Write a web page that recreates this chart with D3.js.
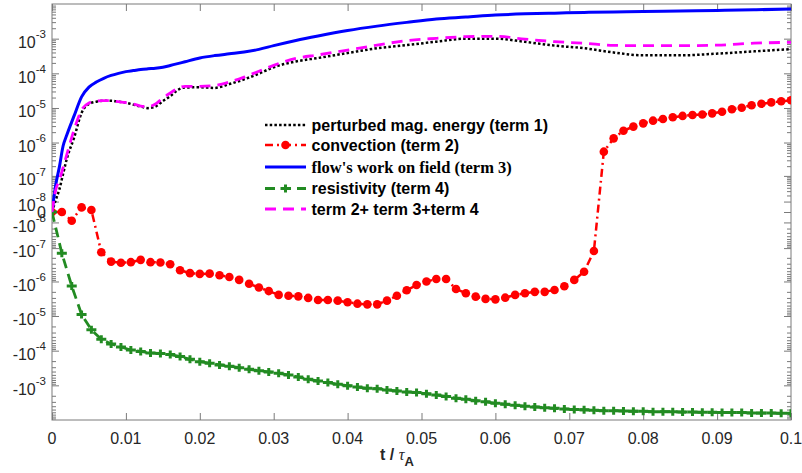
<!DOCTYPE html>
<html>
<head>
<meta charset="utf-8">
<script src="https://cdn.jsdelivr.net/npm/d3@7/dist/d3.min.js"></script>
<style>
  body { margin: 0; background: #fff; }
  svg { display: block; }
</style>
</head>
<body>
<svg id="chart" width="802" height="473"></svg>
<script>
// ---- sampled series (markers at every sample) ----
const tSamples = [
  0, 0.00133, 0.00267, 0.004, 0.00533, 0.00667, 0.008, 0.00933, 0.01067, 0.012,
  0.01333, 0.01467, 0.016, 0.01733, 0.01867, 0.02, 0.02133, 0.02267, 0.024, 0.02533,
  0.02667, 0.028, 0.02933, 0.03067, 0.032, 0.03333, 0.03467, 0.036, 0.03733, 0.03867,
  0.04, 0.04133, 0.04267, 0.044, 0.04533, 0.04667, 0.048, 0.04933, 0.05067, 0.052,
  0.05333, 0.05467, 0.056, 0.05733, 0.05867, 0.06, 0.06133, 0.06267, 0.064, 0.06533,
  0.06667, 0.068, 0.06933, 0.07067, 0.072, 0.07333, 0.07467, 0.076, 0.07733, 0.07867,
  0.08, 0.08133, 0.08267, 0.084, 0.08533, 0.08667, 0.088, 0.08933, 0.09067, 0.092,
  0.09333, 0.09467, 0.096, 0.09733, 0.09867, 0.1
];

// term 2: convection
const convection = [
  0, 0, -7.8e-9, 3.6e-9, 1.4e-9, -1.35e-7, -2.6e-7, -2.8e-7, -2.7e-7, -2.3e-7,
  -2.7e-7, -2.75e-7, -3.1e-7, -4.7e-7, -5.7e-7, -6.0e-7, -5.9e-7, -6.6e-7, -7.4e-7, -9.0e-7,
  -1.16e-6, -1.5e-6, -1.9e-6, -2.45e-6, -2.6e-6, -2.7e-6, -3.0e-6, -3.45e-6, -3.45e-6, -3.6e-6,
  -4.0e-6, -4.4e-6, -4.6e-6, -4.6e-6, -3.6e-6, -2.6e-6, -1.8e-6, -1.27e-6, -1.0e-6, -8.5e-7,
  -8.5e-7, -1.65e-6, -2.2e-6, -2.75e-6, -3.2e-6, -3.3e-6, -2.95e-6, -2.45e-6, -2.2e-6, -2.0e-6,
  -2.0e-6, -1.77e-6, -1.38e-6, -9.0e-7, -5.2e-7, -1.24e-7, 5.4e-7, 1.32e-6, 2.2e-6, 2.9e-6,
  3.6e-6, 4.3e-6, 4.8e-6, 5.4e-6, 5.9e-6, 6.3e-6, 6.5e-6, 7.0e-6, 7.8e-6, 9.2e-6,
  1.02e-5, 1.2e-5, 1.32e-5, 1.45e-5, 1.56e-5, 1.67e-5
];

// term 4: resistivity
const resistivity = [
  0, -1.45e-7, -1.35e-6, -9.0e-6, -2.5e-5, -4.7e-5, -6.4e-5, -7.8e-5, -9.6e-5, -1.05e-4,
  -1.17e-4, -1.2e-4, -1.3e-4, -1.48e-4, -1.78e-4, -2.08e-4, -2.3e-4, -2.57e-4, -2.8e-4, -3.1e-4,
  -3.45e-4, -3.8e-4, -4.1e-4, -4.5e-4, -5.0e-4, -5.75e-4, -6.7e-4, -7.5e-4, -8.3e-4, -9.3e-4,
  -1.02e-3, -1.12e-3, -1.22e-3, -1.25e-3, -1.36e-3, -1.45e-3, -1.55e-3, -1.6e-3, -1.75e-3, -1.9e-3,
  -2.1e-3, -2.37e-3, -2.5e-3, -2.77e-3, -3.0e-3, -3.3e-3, -3.5e-3, -3.76e-3, -4.0e-3, -4.2e-3,
  -4.4e-3, -4.6e-3, -4.8e-3, -5.0e-3, -5.1e-3, -5.25e-3, -5.4e-3, -5.4e-3, -5.5e-3, -5.6e-3,
  -5.6e-3, -5.75e-3, -5.75e-3, -5.75e-3, -5.9e-3, -5.9e-3, -6.0e-3, -6.0e-3, -6.1e-3, -6.1e-3,
  -6.1e-3, -6.3e-3, -6.3e-3, -6.3e-3, -6.4e-3, -6.4e-3
];

// ---- continuous series ----
const tCurve = [
  0, 0.0005, 0.001, 0.0015, 0.002, 0.003, 0.004, 0.005, 0.006, 0.007,
  0.008, 0.009, 0.010, 0.011, 0.012, 0.013, 0.014, 0.015, 0.016, 0.017,
  0.018, 0.020, 0.022, 0.024, 0.026, 0.028, 0.030, 0.033, 0.036, 0.040,
  0.044, 0.048, 0.052, 0.056, 0.060, 0.064, 0.068, 0.072, 0.076, 0.080,
  0.085, 0.090, 0.095, 0.100
];

// term 1: perturbed magnetic energy
const magEnergy = [
  0, 1.2e-8, 3.5e-8, 1.15e-7, 3.3e-7, 1.4e-6, 7.2e-6, 1.3e-5, 1.52e-5, 1.63e-5,
  1.63e-5, 1.52e-5, 1.42e-5, 1.25e-5, 1.1e-5, 9.9e-6, 1.1e-5, 1.58e-5, 2.2e-5, 3.3e-5,
  3.9e-5, 3.95e-5, 3.8e-5, 4.9e-5, 6.7e-5, 9.8e-5, 1.5e-4, 2.2e-4, 2.77e-4, 3.85e-4,
  5.3e-4, 6.5e-4, 8.2e-4, 1.0e-3, 1.0e-3, 8.1e-4, 6.3e-4, 5.3e-4, 4.0e-4, 3.3e-4,
  3.3e-4, 3.7e-4, 4.3e-4, 5.0e-4
];

// term 3: flow's work on field
const flowWork = [
  0, 5e-8, 1.9e-7, 7.9e-7, 1.65e-6, 6.0e-6, 2.1e-5, 4.0e-5, 5.6e-5, 7.2e-5,
  8.7e-5, 1.0e-4, 1.12e-4, 1.2e-4, 1.29e-4, 1.35e-4, 1.4e-4, 1.5e-4, 1.68e-4, 1.9e-4,
  2.16e-4, 2.77e-4, 3.25e-4, 3.65e-4, 4.1e-4, 4.9e-4, 6.3e-4, 8.9e-4, 1.2e-3, 1.72e-3,
  2.3e-3, 2.95e-3, 3.7e-3, 4.2e-3, 4.8e-3, 5.2e-3, 5.45e-3, 5.7e-3, 5.9e-3, 6.1e-3,
  6.3e-3, 6.5e-3, 6.8e-3, 7.2e-3
];

// term 2 + term 3 + term 4
const termSum = [
  0, 3.3e-8, 7.4e-8, 1.8e-7, 4.4e-7, 2.4e-6, 8.7e-6, 1.39e-5, 1.58e-5, 1.63e-5,
  1.63e-5, 1.52e-5, 1.42e-5, 1.3e-5, 1.14e-5, 1.09e-5, 1.3e-5, 1.94e-5, 2.7e-5, 3.65e-5,
  4.2e-5, 4.2e-5, 4.45e-5, 5.6e-5, 7.8e-5, 1.15e-4, 1.7e-4, 2.7e-4, 3.4e-4, 4.7e-4,
  6.5e-4, 8.8e-4, 1.02e-3, 1.14e-3, 1.17e-3, 9.7e-4, 8.2e-4, 7.4e-4, 6.4e-4, 6.3e-4,
  6.3e-4, 6.5e-4, 7.4e-4, 7.85e-4
];

// ---- axis ticks ----
const xTickValues = [0, 0.01, 0.02, 0.03, 0.04, 0.05, 0.06, 0.07, 0.08, 0.09, 0.1];
const xTickLabels = ["0", "0.01", "0.02", "0.03", "0.04", "0.05", "0.06", "0.07", "0.08", "0.09", "0.1"];
const yTickExponents = [-8, -7, -6, -5, -4, -3];
const minorMultipliers = [2, 3, 4, 5, 6, 7, 8, 9];

const legendLabels = [
  "perturbed mag. energy (term 1)",
  "convection (term 2)",
  "flow's work on field (term 3)",
  "resistivity (term 4)",
  "term 2+ term 3+term 4"
];

// ---- layout ----
const plot = { left: 52, right: 791, top: 4, bottom: 420 };
const svg = d3.select("#chart");
const sansFont = "Arial, 'Liberation Sans', Helvetica, sans-serif";
const serifFont = "'Times New Roman', 'Liberation Serif', Times, serif";
const axisColor = "#7a7a7a";
const textColor = "#262626";

const x = d3.scaleLinear().domain([0, 0.1]).range([plot.left, plot.right]);
const y = d3.scaleSymlog().constant(1e-8).domain([-1e-2, 1e-2]).range([plot.bottom, plot.top]);

const majorY = [0];
yTickExponents.forEach(e => { majorY.push(Math.pow(10, e)); majorY.push(-Math.pow(10, e)); });
const minorY = [];
yTickExponents.forEach(e => minorMultipliers.forEach(k => {
  const v = k * Math.pow(10, e);
  minorY.push(v, -v);
}));

// ---- axes (ticks pointing inward) ----
function styleAxis(g) {
  g.select(".domain").remove();
  g.selectAll(".tick line").attr("stroke", axisColor).attr("stroke-width", 1);
  g.selectAll(".tick text").remove();
}
svg.append("g").attr("transform", `translate(${plot.left},0)`)
  .call(d3.axisLeft(y).tickValues(majorY).tickSize(-7).tickSizeOuter(0)).call(styleAxis);
svg.append("g").attr("transform", `translate(${plot.left},0)`)
  .call(d3.axisLeft(y).tickValues(minorY).tickSize(-4).tickSizeOuter(0)).call(styleAxis);
svg.append("g").attr("transform", `translate(${plot.right},0)`)
  .call(d3.axisRight(y).tickValues(majorY).tickSize(-7).tickSizeOuter(0)).call(styleAxis);
svg.append("g").attr("transform", `translate(${plot.right},0)`)
  .call(d3.axisRight(y).tickValues(minorY).tickSize(-4).tickSizeOuter(0)).call(styleAxis);
svg.append("g").attr("transform", `translate(0,${plot.bottom})`)
  .call(d3.axisBottom(x).tickValues(xTickValues).tickSize(-7).tickSizeOuter(0)).call(styleAxis);
svg.append("g").attr("transform", `translate(0,${plot.top})`)
  .call(d3.axisTop(x).tickValues(xTickValues).tickSize(-7).tickSizeOuter(0)).call(styleAxis);

svg.append("rect")
  .attr("x", plot.left).attr("y", plot.top)
  .attr("width", plot.right - plot.left).attr("height", plot.bottom - plot.top)
  .attr("fill", "none").attr("stroke", axisColor).attr("stroke-width", 1);

// ---- tick labels ----
svg.append("g").selectAll("text").data(xTickValues).join("text")
  .attr("x", d => x(d)).attr("y", 443.5)
  .attr("text-anchor", "middle")
  .attr("font-family", sansFont).attr("font-size", 16).attr("fill", textColor)
  .text((d, i) => xTickLabels[i]);

const yLabelG = svg.append("g")
  .attr("font-family", sansFont).attr("fill", textColor).attr("text-anchor", "end");
yLabelG.append("text").attr("x", 46).attr("y", y(0) + 5.7).attr("font-size", 16).text("0");
yTickExponents.forEach(e => {
  [1, -1].forEach(sign => {
    const t = yLabelG.append("text").attr("x", 46).attr("y", y(sign * Math.pow(10, e)) + 9.3);
    t.append("tspan").attr("font-size", 16).text(sign < 0 ? "-10" : "10");
    t.append("tspan").attr("font-size", 11.5).attr("dy", -9.6).text(String(e));
  });
});

// x-axis title: t / τ_A
const xTitle = svg.append("text").attr("x", 380).attr("y", 460)
  .attr("font-family", sansFont).attr("fill", textColor);
xTitle.append("tspan").attr("font-size", 16).attr("font-weight", "bold").text("t / ");
xTitle.append("tspan").attr("font-size", 16).attr("font-style", "italic")
  .attr("font-family", serifFont).text("\u03C4");
xTitle.append("tspan").attr("font-size", 13).attr("font-weight", "bold").attr("dy", 6).text("A");

// ---- data marks ----
svg.append("clipPath").attr("id", "plotClip")
  .append("rect").attr("x", plot.left).attr("y", plot.top)
  .attr("width", plot.right - plot.left).attr("height", plot.bottom - plot.top);
const marks = svg.append("g").attr("clip-path", "url(#plotClip)");

const styles = {
  energy: { color: "#000000", width: 2.5, dash: "2.5,2.2" },
  convection: { color: "#ff0000", width: 2.5, dash: "8,4,2,4" },
  flow: { color: "#0000ff", width: 3, dash: null },
  resist: { color: "#228b22", width: 2.8, dash: "10,6" },
  sum: { color: "#ff00ff", width: 2.8, dash: "11,7" }
};

const smoothLine = d3.line().x(d => x(d[0])).y(d => y(d[1])).curve(d3.curveMonotoneX);
const straightLine = d3.line().x(d => x(d[0])).y(d => y(d[1]));

function drawPath(ts, vs, st, gen) {
  marks.append("path")
    .datum(ts.map((t, i) => [t, vs[i]]))
    .attr("d", gen)
    .attr("fill", "none")
    .attr("stroke", st.color)
    .attr("stroke-width", st.width)
    .attr("stroke-dasharray", st.dash)
    .attr("stroke-linejoin", "round");
}

const plusPath = "M-5,0H5M0,-4V4";

drawPath(tCurve, magEnergy, styles.energy, smoothLine);
drawPath(tSamples, convection, styles.convection, straightLine);
marks.append("g").selectAll("circle").data(tSamples).join("circle")
  .attr("cx", d => x(d)).attr("cy", (d, i) => y(convection[i]))
  .attr("r", 4.3).attr("fill", styles.convection.color);
drawPath(tCurve, flowWork, styles.flow, smoothLine);
drawPath(tSamples, resistivity, styles.resist, straightLine);
marks.append("g").selectAll("path").data(tSamples).join("path")
  .attr("transform", (d, i) => `translate(${x(d)},${y(resistivity[i])})`)
  .attr("d", plusPath).attr("stroke", styles.resist.color).attr("stroke-width", 3).attr("fill", "none");
drawPath(tCurve, termSum, styles.sum, smoothLine);

// ---- legend ----
const legendRows = [
  { st: styles.energy, marker: null, font: sansFont, size: 16 },
  { st: styles.convection, marker: "circle", font: sansFont, size: 16 },
  { st: styles.flow, marker: null, font: serifFont, size: 16.5 },
  { st: styles.resist, marker: "plus", font: sansFont, size: 16 },
  { st: styles.sum, marker: null, font: sansFont, size: 16 }
];
const legendY = [125, 145, 167, 188.5, 209];
const legend = svg.append("g");
legendRows.forEach((row, i) => {
  const ly = legendY[i];
  legend.append("line")
    .attr("x1", 265).attr("x2", 306).attr("y1", ly).attr("y2", ly)
    .attr("stroke", row.st.color).attr("stroke-width", row.st.width)
    .attr("stroke-dasharray", row.st.dash);
  if (row.marker === "circle") {
    legend.append("circle").attr("cx", 285.5).attr("cy", ly).attr("r", 4.3).attr("fill", row.st.color);
  } else if (row.marker === "plus") {
    legend.append("path").attr("transform", `translate(285.5,${ly})`).attr("d", plusPath)
      .attr("stroke", row.st.color).attr("stroke-width", 3).attr("fill", "none");
  }
  legend.append("text")
    .attr("x", 311.5).attr("y", ly + 5.8)
    .attr("font-family", row.font).attr("font-size", row.size).attr("font-weight", "bold")
    .attr("fill", "#000").text(legendLabels[i]);
});
</script>
</body>
</html>
